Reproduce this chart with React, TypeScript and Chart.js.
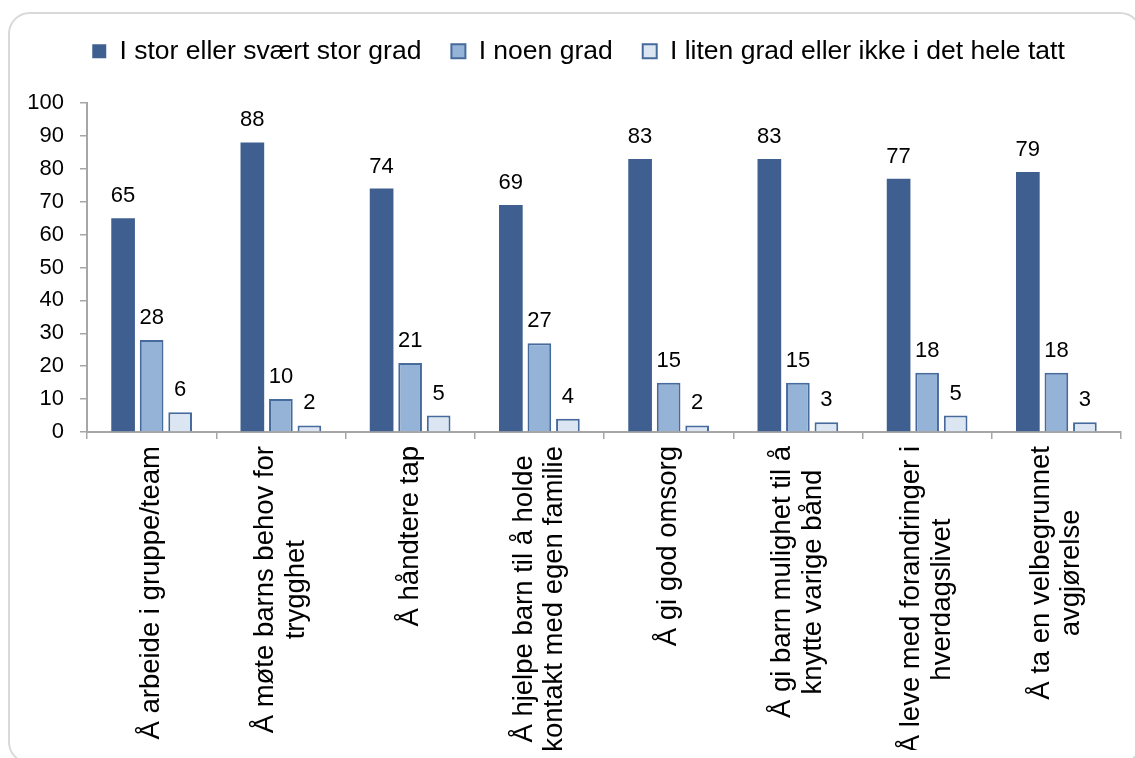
import React, { useEffect, useRef } from "react";
import { Chart, registerables } from "chart.js";

Chart.register(...registerables);

const categories: (string | string[])[] = [
  "Å arbeide i gruppe/team",
  ["Å møte barns behov for", "trygghet"],
  "Å håndtere tap",
  ["Å hjelpe barn til å holde", "kontakt med egen familie"],
  "Å gi god omsorg",
  ["Å gi barn mulighet til å", "knytte varige bånd"],
  ["Å leve med forandringer i", "hverdagslivet"],
  ["Å ta en velbegrunnet", "avgjørelse"],
];

const seriesNames = [
  "I stor eller svært stor grad",
  "I noen grad",
  "I liten grad eller ikke i det hele tatt",
];

const highValues = [65, 88, 74, 69, 83, 83, 77, 79];
const someValues = [28, 10, 21, 27, 15, 15, 18, 18];
const lowValues = [6, 2, 5, 4, 2, 3, 5, 3];

const yTicksMin = 0;
const yTicksMax = 100;
const yTicksStep = 10;

const FONT = '"Liberation Sans", Arial, Helvetica, sans-serif';
const AXIS_GREY = "#A6A6A6";

export default function App() {
  const ref = useRef<HTMLCanvasElement | null>(null);

  useEffect(() => {
    if (!ref.current) return;

    const legendPatch = {
      id: "legendPatch",
      beforeLayout(chart: any) {
        const lg = chart.legend;
        if (lg && !lg.__patched) {
          const f = lg.fit;
          lg.fit = function () {
            f.call(this);
            this.height = 95;
          };
          lg.__patched = true;
        }
      },
      afterLayout(chart: any) {
        const lg = chart.legend;
        if (lg) {
          lg.left += 14;
          lg.right += 14;
        }
      },
    };

    const valueLabels = {
      id: "valueLabels",
      afterDatasetsDraw(chart: any) {
        const ctx = chart.ctx;
        ctx.save();
        ctx.font = `22px ${FONT}`;
        ctx.fillStyle = "#000";
        ctx.textAlign = "center";
        ctx.textBaseline = "alphabetic";
        chart.data.datasets.forEach((ds: any, di: number) => {
          const meta = chart.getDatasetMeta(di);
          meta.data.forEach((el: any, i: number) => {
            ctx.fillText(String(ds.data[i]), el.x, el.y - 16);
          });
        });
        ctx.restore();
      },
    };

    const xLabels = {
      id: "xLabels",
      afterDraw(chart: any) {
        const ctx = chart.ctx;
        const xs = chart.scales.x;
        ctx.save();
        ctx.font = `27.5px ${FONT}`;
        ctx.fillStyle = "#000";
        ctx.textAlign = "center";
        ctx.textBaseline = "middle";
        categories.forEach((lab, i) => {
          const lines = Array.isArray(lab) ? lab : [lab];
          const maxW = Math.max(...lines.map((l) => ctx.measureText(l).width));
          const x = xs.getPixelForTick(i);
          const yTop = xs.top + 14;
          ctx.save();
          ctx.translate(x, yTop + maxW / 2);
          ctx.rotate(-Math.PI / 2);
          lines.forEach((l, j) => {
            ctx.fillText(l, 0, (j - (lines.length - 1) / 2) * 30.5);
          });
          ctx.restore();
        });
        ctx.restore();
      },
    };

    const chart = new Chart(ref.current, {
      type: "bar",
      data: {
        labels: categories,
        datasets: [
          {
            label: seriesNames[0],
            data: highValues,
            backgroundColor: "#3E5F8F",
            borderColor: "#3E5F8F",
            borderWidth: 0,
            categoryPercentage: 0.662,
            barPercentage: 0.83,
          },
          {
            label: seriesNames[1],
            data: someValues,
            backgroundColor: "#95B3D7",
            borderColor: "#466A9C",
            borderWidth: 2,
            categoryPercentage: 0.662,
            barPercentage: 0.83,
          },
          {
            label: seriesNames[2],
            data: lowValues,
            backgroundColor: "#DCE6F2",
            borderColor: "#466A9C",
            borderWidth: 2,
            categoryPercentage: 0.662,
            barPercentage: 0.83,
          },
        ],
      },
      options: {
        animation: false,
        responsive: false,
        maintainAspectRatio: false,
        events: [],
        layout: { padding: { left: 0, right: 6, top: 0, bottom: 0 } },
        plugins: {
          tooltip: { enabled: false },
          legend: {
            display: true,
            position: "top",
            labels: {
              font: { family: FONT, size: 26.5 },
              color: "#000",
              boxWidth: 14,
              boxHeight: 14,
              padding: 30,
            },
          },
        },
        scales: {
          x: {
            offset: true,
            grid: {
              offset: true,
              drawOnChartArea: false,
              drawTicks: true,
              tickLength: 7,
              color: AXIS_GREY,
              lineWidth: 1.5,
            },
            border: { display: true, color: AXIS_GREY, width: 2 },
            ticks: {
              autoSkip: false,
              minRotation: 90,
              maxRotation: 90,
              color: "rgba(0,0,0,0)",
              font: { family: FONT, size: 27.5 },
            },
            afterFit: (scale: any) => {
              scale.height = 318;
            },
          },
          y: {
            min: yTicksMin,
            max: yTicksMax,
            ticks: {
              stepSize: yTicksStep,
              color: "#000",
              padding: 16,
              font: { family: FONT, size: 22 },
            },
            grid: {
              drawOnChartArea: false,
              drawTicks: true,
              tickLength: 7,
              color: AXIS_GREY,
              lineWidth: 1.5,
            },
            border: { display: true, color: AXIS_GREY, width: 2 },
            afterFit: (scale: any) => {
              scale.width = 79;
            },
          },
        },
      },
      plugins: [legendPatch, valueLabels, xLabels],
    });

    return () => chart.destroy();
  }, []);

  return (
    <div>
      <div
        style={{
          position: "fixed",
          left: 8,
          top: 12,
          width: 1134,
          height: 752,
          boxSizing: "border-box",
          border: "2px solid #D9D9D9",
          borderRadius: 22,
          background: "#fff",
        }}
      />
      <canvas
        ref={ref}
        width={1119}
        height={742}
        style={{ position: "fixed", left: 8, top: 8, width: 1119, height: 742 }}
      />
    </div>
  );
}
